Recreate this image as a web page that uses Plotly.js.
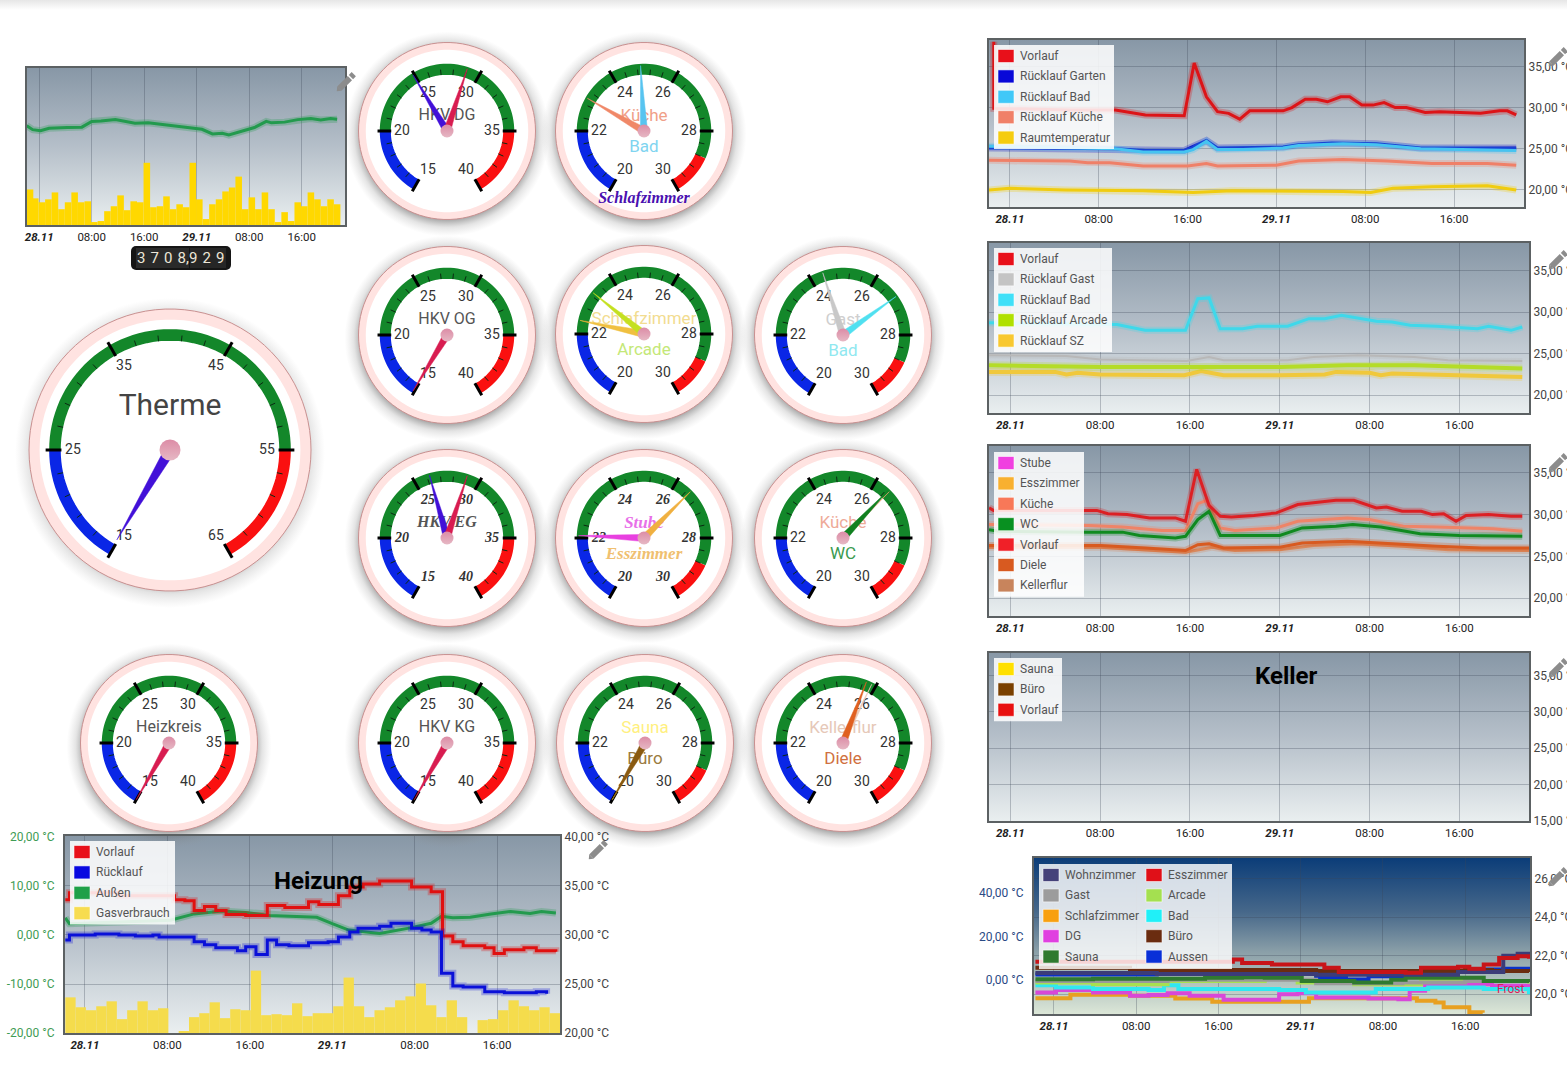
<!DOCTYPE html>
<html><head><meta charset="utf-8">
<script src="https://cdn.plot.ly/plotly-3.0.1.min.js"></script>
<style>html,body{margin:0;padding:0;background:#fff;overflow:hidden}#g{width:1567px;height:1083px}</style>
</head><body><div id="g"></div>
<script>
/* ---------- time axis ---------- */
const timeTickHours = [0,8,16,24,32,40];
const timeTickLabels = ['<b><i>28.11</i></b>','08:00','16:00','<b><i>29.11</i></b>','08:00','16:00'];

/* ---------- Gas overview chart ---------- */
const gasHours = [-1.4,-0.6,0.4,1.4,2.4,3.4,4.4,5.4,6.4,7.4,8.4,9.4,10.4,11.4,12.4,13.4,14.4,15.4,16.4,17.4,18.4,19.4,20.4,21.4,22.4,23.4,24.4,25.4,26.4,27.4,28.4,29.4,30.4,31.4,32.4,33.4,34.4,35.4,36.4,37.4,38.4,39.4,40.4,41.4,42.4,43.4,44.4,45.4];
const gasOverview = [36,27,23,26,33,16,23,33,23,24,3,4,14,19,30,15,24,23,63,18,19,29,16,21,18,63,26,6,21,26,34,38,49,16,28,16,33,16,3,13,4,23,19,33,26,19,26,21];
const outsideHours = [-1.9,-1,0.2,1.5,4.3,6.5,8,9.4,11.6,13,14.6,16.6,19,24.8,26.4,27.9,28.9,30.4,32.8,34.6,35.4,37.4,39.4,41.4,42.9,44.4,45.4];
const outsideOverview = [5.7,4.6,4.3,5,5.2,5.3,6.9,7,7.4,7,6.4,6.5,6,4.7,3.4,3.6,3.1,3.9,5.2,6.9,6.5,6.7,7.4,7.7,7.3,7.7,7.5];

/* ---------- Heizung chart ---------- */
const heizVorlaufHours = [-1.9,-1.5,0.5,3.3,8.7,9.7,10.6,11.6,12.7,13.7,15.6,16.7,17.7,19.4,21.7,22.7,24.6,25.7,27,28.6,31.7,33.6,34.7,35.7,36.7,38.8,39.7,40.7,42.6,43.8,45.7];
const heizVorlauf = [33.6,34.3,34.3,34,33.6,33.5,32.5,32.9,32.5,32.1,32,32,33,32.8,33.4,33.1,34,34.9,35.2,35.5,34.9,34.4,29.9,29.3,28.9,28.7,28.1,28.5,28.7,28.4,28.3];
const heizRuecklaufHours = [-1.9,-1.5,1,3.3,4.9,6.6,7.2,9.7,10.6,11.6,12.7,14.4,14.8,15.6,16.6,17.7,18.6,19.8,21.7,23.6,24.6,25.7,26.5,28.6,29.7,31.7,32.7,33.6,34.6,35.7,36.7,38.8,40.7,43.8,44.8];
const heizRuecklauf = [29.5,30,30.1,30,29.9,30,29.8,29.8,29.3,29,28.7,28.7,28.4,28.8,28,29.5,29,28.9,29.2,29.3,29.8,30.3,30.7,30.9,31.2,30.7,30.5,30.3,26.1,24.8,24.7,24.2,24.1,24.2,24];
const heizAussenHours = [-1.9,-1.5,8.3,10.6,13.3,15.6,17.9,20.2,22.5,24,25.6,28.6,31.7,33.6,34.6,35.7,37.4,39.4,41.3,43.2,44.3,45.7];
const heizAussen = [3.5,2.3,3,4.3,4.9,4.6,4,3.8,3.6,2.3,1,0.3,1.5,2.4,3.8,3.5,3.6,4.3,4.8,4.4,4.8,4.5];
const heizGasHours = [-1.4,-0.4,0.6,1.6,2.6,3.6,4.6,5.6,6.6,7.6,8.6,9.6,10.6,11.6,12.6,13.6,14.6,15.6,16.6,17.6,18.6,19.6,20.6,21.6,22.6,23.6,24.6,25.6,26.6,27.6,28.6,29.6,30.6,31.6,32.6,33.6,34.6,35.6,36.6,37.6,38.6,39.6,40.6,41.6,42.6,43.6,44.6,45.6];
const heizGas = [36,26,23,27,32,14,23,32,23,25,0,2,16,20,31,15,24,23,63,18,19,18,30,17,20,20,27,56,27,16,23,26,33,37,50,28,16,33,16,0,13,14,23,33,27,23,26,20];

/* ---------- right column 1 ---------- */
const r1VorlaufHours = [-1.45,-1.45,5.4,9.5,12.2,15.7,16.6,17.7,18.7,19.7,20.7,21.6,24.6,25.4,26.6,27.6,28.6,29.8,30.6,31.7,32.7,33.7,34.7,35.7,37.4,38.7,42.4,44.1,44.8,45.6];
const r1Vorlauf = [38,29.9,29.7,29.7,29.1,29,35.4,31.3,29.5,29.3,28.6,29.6,29.6,30,31,31,30.7,31.3,31.3,30.3,30.3,30.6,30,30,29.4,29.5,29.3,29.6,29.6,29.1];
const r1GartenHours = [-1.9,9.5,12.2,15.7,17.7,18.7,24.6,26,29,33,37,45.6];
const r1Garten = [25.1,25,24.8,24.8,26,25.1,25.2,25.5,25.7,25.6,25.1,25.1];
const r1BadHours = [-1.9,9.5,12,15.7,16.5,17.7,18.7,21,24.6,26,30,33,37,41,45.6];
const r1Bad = [25.3,25,24.6,24.6,24.9,25.9,24.9,24.9,25.1,25.4,25.6,25.5,25,24.9,24.8];
const r1KuecheHours = [-1.9,5.4,7,9,12,16,17.7,18.7,24,26,30,34,38,43,45.6];
const r1Kueche = [23.6,23.5,23.3,23.3,22.9,22.9,23.2,22.9,23,23.5,23.7,23.5,23.2,23.2,23];
const r1RaumHours = [-1.9,0,5,12,16.5,20,30,32.5,34.5,38,43,45.6];
const r1Raum = [20,20.2,20,19.9,19.7,19.9,19.8,19.7,20.2,20.4,20.5,20];

/* ---------- right column 2 ---------- */
const r2BadHours = [-1.9,9.5,12,15.6,16.7,17.7,18.7,20.7,22,24.7,26.6,28,29.5,32.6,34,35.6,38,41.6,42.6,44.6,45.6];
const r2Bad = [28.7,28.5,27.8,27.8,31.6,31.7,28,28,28.3,28.3,29.2,29.2,29.6,28.9,28.8,28.4,28.3,28,28.3,27.8,28.2];
const r2GastHours = [-1.9,5,8,15.7,17.7,19,24.7,27,31,36,39,45.6];
const r2Gast = [24.8,24.7,24.3,24.1,24.6,24.2,24.2,24.6,24.8,24.6,24.2,24.1];
const r2ArcadeHours = [-1.9,8,24,30,36,40,45.6];
const r2Arcade = [23.6,23.4,23.4,23.6,23.6,23.4,23.2];
const r2SzHours = [-1.9,4,5,6,8,15.5,17,19,24,28,29,32,33,34,45.6];
const r2Sz = [22.8,22.8,22.5,22.7,22.5,22.4,22.9,22.4,22.4,22.5,22.8,22.7,22.4,22.6,22.2];

/* ---------- right column 3 ---------- */
const r3VorlaufHours = [-1.9,-1.5,7,7.7,8.7,10.4,12.4,14.7,15.6,16.6,17.7,18.7,19.7,21.7,23.7,25.6,27.6,29,30.6,32.6,33.5,34.9,36.6,37.6,38.6,39.7,40.6,42.6,44.6,45.6];
const r3Vorlauf = [30.8,30.5,30.5,30.5,30.1,30,29.6,29.6,29.2,35.4,31.1,29.8,29.7,29.9,30.2,31.2,31.5,31.7,31.7,30.8,30.9,30.4,30.4,30,30.1,29.2,29.9,30,29.8,29.8];
const r3KuecheHours = [-1.9,7,10,13.5,15.6,16.7,17.5,18.7,20,23.7,25.6,28,30,32,35,38,43,45.6];
const r3Kueche = [28.8,28.7,28.5,28.1,28.1,31.3,31.7,28.4,28.1,28.4,29.2,29.4,29.6,29.4,28.6,28.5,28.3,28];
const r3WcHours = [-1.9,-1,7,10,11.5,14.7,15.6,16.7,17.7,18.7,24,26,29,30.5,33,36.5,40,45.6];
const r3Wc = [28.2,28,27.9,27.9,27.5,27.2,27.4,29.4,30.4,27.5,27.5,28.4,28.6,28.8,28.5,27.7,27.5,27.4];
const r3DieleHours = [-1.9,8,12,15.6,16.7,17.7,19,24,26,30,34,38,42,46.2];
const r3Diele = [26.3,26.3,26,25.7,26.4,26.5,26,26.1,26.6,26.8,26.5,26.2,26,26];
const r3KellerHours = [-1.9,8,15.6,17,18,20,24,27,31,35,39,46.2];
const r3Keller = [26.1,26.1,25.5,25.8,26.1,25.7,25.8,26.3,26.5,26.2,25.8,25.7];

/* ---------- Zimmer chart ---------- */
const zSzHours = [-1.8,1.6,7.4,11.8,15.4,24.5,24.8,33.9,35.3,37.1,37.9,40.4,41.7];
const zSz = [19.79,19.97,19.91,19.78,19.61,19.61,19.79,19.79,19.66,19.57,19.32,19.06,19.03];
const zDgHours = [-1.8,0.2,3.8,7.4,9.2,11.05,13.2,16.5,21.9,23.7,25.5,30.6,33.5,34.6,36.1,39.3,42.6,46.2];
const zDg = [20.09,20.22,20.09,19.91,19.95,20.05,19.91,19.71,20,20.05,19.83,19.78,19.74,20.17,20.43,20.51,20.43,20.09];
const zBadHours = [-1.8,0.2,3.8,9.2,10.7,12.1,21.9,24.5,29.2,31.3,36.4,41.8,43.7,46.2];
const zBad = [20.46,20.34,20.26,20.22,20.46,20.26,20.22,20.09,20.09,20.26,20.34,20.26,20.26,20];
const zArcadeHours = [-1.8,3.8,9.2,11.05,18.3,20.5,23.7,29.2,33.5,35.7,40,46.2];
const zArcade = [20.6,20.51,20.51,20.68,20.68,20.85,20.6,20.51,20.51,20.74,20.68,20.55];
const zGastHours = [-1.8,11.05,25.5,32.8,33.9,40,46.2];
const zGast = [20.68,20.74,20.56,20.56,20.6,20.68,20.6];
const zSaunaHours = [-1.8,3.8,14.7,18.3,20.5,24.1,29.2,32.8,34.2,40,41.8,46.2];
const zSauna = [20.77,20.8,20.85,20.88,20.85,20.68,20.6,20.74,20.85,20.85,20.68,20.63];
const zBueroHours = [-1.8,7.4,25.5,29.2,32.8,40,42.6,46.2];
const zBuero = [21.37,21.25,21.2,21.2,21.2,21.25,21.2,21.15];
const zWohnHours = [-1.8,10,25.5,39.3,43.7,45.1,46.2];
const zWohn = [21.1,21.05,21,21.15,21.99,22.1,21.88];
const zEssHours = [-1.8,17.4,18.3,21.2,24.5,26.3,27.7,34.2,35.7,39.3,40.4,41.8,43.3,45.1,46.2];
const zEss = [21.68,21.8,21.62,21.54,21.54,21.37,21.15,21.11,21.37,21.42,21.32,21.54,21.88,21.97,21.83];
const zAussenHours = [-1.8,7.4,10,15.4,21.9,23.7,25.5,28.4,30.6,33.9,35.7,40,43.7,46.2];
const zAussen = [2.6,2.6,4.1,4.5,4.1,3.3,1.1,0.3,1.8,2.6,4.1,4.8,5.2,4.8];

/* ---------- gauge scales and readings ---------- */
const thermeScale = [15,65], hkvScale = [15,40], roomScale = [20,30];
const thermeBands = [15,25,55,65], hkvBands = [15,20,35,40], roomBands = [20,22,28.8,30];
const thermeReading = [15.1];
const hkvDgReadings = [24.9,29.0];
const hkvOgReading = [15.1];
const hkvEgReadings = [26.2,29.0];
const heizkreisReading = [15.0];
const hkvKgReading = [15.0];
const szKuecheBadReadings = [23.0,24.9];
const szArcadeReadings = [22.4,23.3];
const gastBadReadings = [24.4,26.8];
const stubeEssReadings = [22.07,26.5];
const kuecheWcReadings = [26.5,26.45];
const saunaBueroReadings = [20.0,20.0];
const kellerDieleReadings = [25.87,25.7];

/* ---------- helpers ---------- */
const W=1567,H=1083;
const data=[],shapes=[],annotations=[],images=[];
const layout={width:W,height:H,margin:{l:0,r:0,t:0,b:0},paper_bgcolor:'#fff',plot_bgcolor:'rgba(0,0,0,0)',
  showlegend:false,barmode:'overlay',font:{family:'Roboto',size:12,color:'#444'},shapes,annotations,images};
const FONT='Roboto';
const FRAME='#5c6163';
let axisN=0;
const px=x=>x/W, py=y=>1-y/H;
const axKey=id=>id.replace('x','xaxis').replace('y','yaxis');
function svgUri(s){return 'data:image/svg+xml;utf8,'+encodeURIComponent(s);}
function pngImage(l,t,w,h,svg,layer){images.push({source:svgUri(svg),xref:'paper',yref:'paper',x:px(l),y:py(t),sizex:w/W,sizey:h/H,xanchor:'left',yanchor:'top',sizing:'stretch',layer:layer||'below'});}
function gradient(l,t,r,b,stops){
  const s=stops.map(p=>`<stop offset="${p[0]}" stop-color="${p[1]}"/>`).join('');
  pngImage(l,t,r-l,b-t,`<svg xmlns="http://www.w3.org/2000/svg" width="100" height="100" preserveAspectRatio="none" viewBox="0 0 100 100"><defs><linearGradient id="a" x1="0" y1="0" x2="0" y2="1">${s}</linearGradient></defs><rect width="100" height="100" fill="url(#a)"/></svg>`);
}
const greyStops=[[0,'#8797a6'],[0.5,'#b5bfc9'],[1,'#eaeff0']];
const blueStops=[[0,'#0a3c78'],[0.35,'#47688a'],[0.6,'#8a9fa8'],[1,'#dde8d8']];
function newX(l,r,range){
  const id=++axisN; const k='xaxis'+(id===1?'':id);
  layout[k]={domain:[px(l+1),px(r-1)],range,tickvals:timeTickHours,ticktext:timeTickLabels,tickangle:0,showgrid:true,gridcolor:'rgba(60,70,85,0.30)',gridwidth:1,
    zeroline:false,showline:true,mirror:true,linecolor:FRAME,linewidth:2,ticks:'',tickfont:{family:FONT,size:11.5,color:'#222'},layer:'above traces'};
  return 'x'+(id===1?'':id);
}
function newY(xId,t,b,range,o){
  const id=++axisN; const k='yaxis'+id; o=o||{};
  const a={domain:[py(b-1),py(t+1)],range,anchor:xId,zeroline:false,ticks:'',fixedrange:true,showgrid:false,tickfont:{family:FONT,size:12,color:o.color||'#444'},
    showline:true,mirror:true,linecolor:FRAME,linewidth:2,layer:'above traces'};
  if(o.side){a.side=o.side;}
  if(o.vals){a.tickvals=o.vals;a.ticktext=o.text;}
  if(o.grid){a.showgrid=true;a.gridcolor='rgba(60,70,85,0.30)';}
  if(o.hidden){a.visible=false;}
  if(o.over){a.overlaying=o.over;}
  layout[k]=a;
  const xa=layout[axKey(xId)];
  if(!xa.anchor) xa.anchor='y'+id;
  return 'y'+id;
}
function line(x,y,xs,ys,color,name,o){
  o=o||{};
  if(o.shadow!==false) data.push({type:'scatter',mode:'lines',x:xs,y:ys,xaxis:x,yaxis:y,showlegend:false,hoverinfo:'skip',opacity:0.28,line:{color:o.shadow||color,width:(o.w||3)+4,shape:o.shape||'linear'}});
  data.push({type:'scatter',mode:'lines',name,x:xs,y:ys,xaxis:x,yaxis:y,hoverinfo:'skip',line:{color,width:o.w||3,shape:o.shape||'linear'}});
}
function legendOnly(x,y,name,color){data.push({type:'scatter',mode:'lines',name,x:[null],y:[null],xaxis:x,yaxis:y,line:{color}});}
function bars(x,y,xs,ys,color,name){data.push({type:'bar',name,x:xs,y:ys,xaxis:x,yaxis:y,width:1,hoverinfo:'skip',marker:{color,line:{width:0}}});}
function legendBox(l,t,w,rows,alpha,h){
  const step=20.4;
  const hh=h||rows.length*step+2;
  shapes.push({type:'rect',xref:'paper',yref:'paper',layer:'above',x0:px(l),x1:px(l+w),y0:py(t),y1:py(t+hh),fillcolor:`rgba(255,255,255,${alpha||0.86})`,line:{width:0}});
  rows.forEach((r,i)=>legendRow(l+4,t+11+i*step,r[0],r[1]));
}
function legendRow(x,yc,name,color){
  shapes.push({type:'rect',xref:'paper',yref:'paper',layer:'above',x0:px(x),x1:px(x+16),y0:py(yc-6.5),y1:py(yc+6.5),fillcolor:color,line:{color:'rgba(255,255,255,0.55)',width:1}});
  annotations.push({xref:'paper',yref:'paper',x:px(x+20),y:py(yc),xanchor:'left',yanchor:'middle',showarrow:false,text:name,font:{family:FONT,size:12,color:'#555'}});
}
function label(x,y,text,size,color,bold){annotations.push({xref:'paper',yref:'paper',x:px(x),y:py(y),xanchor:'center',yanchor:'middle',showarrow:false,text:bold?'<b>'+text+'</b>':text,font:{family:FONT,size,color}});}
function pencil(cx,cy){pngImage(cx-13,cy-13,26,26,`<svg xmlns="http://www.w3.org/2000/svg" width="26" height="26" viewBox="0 0 26 26"><g transform="rotate(45 13 13)" fill="#8c8c8c"><rect x="10" y="7.5" width="6" height="15"/><rect x="10" y="2" width="6" height="4"/><polygon points="10,22.5 16,22.5 13,26"/></g></svg>`,'above');}

/* ---------- charts ---------- */
gradient(0,0,W,10,[[0,'#e6e6e6'],[1,'#ffffff']]);

// Gas overview
{ gradient(26,67,346,226,greyStops);
  const x=newX(26,346,[-1.86,46.6]);
  const yg=newY(x,67,226,[0,159],{hidden:true});
  const y=newY(x,67,226,[-22,21.8],{over:yg,vals:[],text:[]});
  bars(x,yg,gasHours,gasOverview,'#ffd800','Gasverbrauch');
  line(x,y,outsideHours,outsideOverview,'#239a4e','Außen');
  pencil(346,82);
}
// Heizung
{ gradient(64,835,561,1034,greyStops);
  const x=newX(64,561,[-1.93,46.1]);
  const yg=newY(x,835,1034,[0,199],{hidden:true});
  const yl=newY(x,835,1034,[-20,20.2],{over:yg,color:'#3f9c55',vals:[-20,-10,0,10,20],text:['-20,00 °C','-10,00 °C','0,00 °C','10,00 °C','20,00 °C'],grid:true});
  const yr=newY(x,835,1034,[20,40.1],{over:yg,side:'right',vals:[20,25,30,35,40],text:['20,00 °C','25,00 °C','30,00 °C','35,00 °C','40,00 °C']});
  layout[axKey(yl)].ticklabelstandoff=6;
  bars(x,yg,heizGasHours,heizGas,'#f5dc4c','Gasverbrauch');
  line(x,yl,heizAussenHours,heizAussen,'#239a4e','Außen');
  line(x,yr,heizVorlaufHours,heizVorlauf,'#e01010','Vorlauf',{shape:'hv'});
  line(x,yr,heizRuecklaufHours,heizRuecklauf,'#0a10d8','Rücklauf',{shape:'hv'});
  legendBox(70,841,105,[['Vorlauf','#e8101a'],['Rücklauf','#0808e0'],['Außen','#1fa048'],['Gasverbrauch','#f7dc50']]);
  label(318,881,'Heizung',24,'#000',true);
  pencil(598,850);
}
function rightChart(t,b,r,xr,yr,ticks,gridL){
  gradient(gridL,t,r,b,greyStops);
  const x=newX(gridL,r,xr);
  const y=newY(x,t,b,yr,{side:'right',vals:ticks,text:ticks.map(v=>v.toFixed(2).replace('.',',')+' °C'),grid:true});
  return [x,y];
}
// Right 1
{ const [x,y]=rightChart(39,208,1525,[-1.88,46.3],[17.93,38.2],[35,30,25,20],988);
  line(x,y,r1RaumHours,r1Raum,'#f0cc10','Raumtemperatur');
  line(x,y,r1KuecheHours,r1Kueche,'#ef8068','Rücklauf Küche');
  line(x,y,r1GartenHours,r1Garten,'#0a10c8','Rücklauf Garten');
  line(x,y,r1BadHours,r1Bad,'#46c4f0','Rücklauf Bad');
  line(x,y,r1VorlaufHours,r1Vorlauf,'#dc1418','Vorlauf');
  legendBox(994,45,120,[['Vorlauf','#e8101a'],['Rücklauf Garten','#0808d8'],['Rücklauf Bad','#40c8f8'],['Rücklauf Küche','#f08068'],['Raumtemperatur','#f5cc10']]);
  pencil(1558,57);
}
// Right 2
{ const [x,y]=rightChart(242,414,1530,[-1.9,46.2],[17.86,38.3],[35,30,25,20],988);
  legendOnly(x,y,'Vorlauf','#e8101a');
  line(x,y,r2GastHours,r2Gast,'#b8b8b8','Rücklauf Gast',{w:2});
  line(x,y,r2SzHours,r2Sz,'#f0c83c','Rücklauf SZ',{w:4});
  line(x,y,r2ArcadeHours,r2Arcade,'#b4dc28','Rücklauf Arcade',{w:4});
  line(x,y,r2BadHours,r2Bad,'#3fd8ea','Rücklauf Bad');
  legendBox(994,248,118,[['Vorlauf','#e8101a'],['Rücklauf Gast','#c4c4c4'],['Rücklauf Bad','#40e0f8'],['Rücklauf Arcade','#b0e000'],['Rücklauf SZ','#f8c830']]);
  pencil(1558,260);
}
// Right 3
{ const [x,y]=rightChart(445,617,1530,[-1.9,46.2],[17.87,38.2],[35,30,25,20],988);
  legendOnly(x,y,'Stube','#f040e0'); legendOnly(x,y,'Esszimmer','#f8b030');
  line(x,y,r3KellerHours,r3Keller,'#d8885c','Kellerflur');
  line(x,y,r3DieleHours,r3Diele,'#d85a20','Diele');
  line(x,y,r3KuecheHours,r3Kueche,'#ee8468','Küche');
  line(x,y,r3WcHours,r3Wc,'#108a20','WC');
  line(x,y,r3VorlaufHours,r3Vorlauf,'#dc2024','Vorlauf');
  legendBox(994,452,90,[['Stube','#f040e0'],['Esszimmer','#f8b030'],['Küche','#f87858'],['WC','#089020'],['Vorlauf','#f02028'],['Diele','#d85a20'],['Kellerflur','#c8845c']]);
  pencil(1558,463);
}
// Keller
{ const [x,y]=rightChart(652,822,1530,[-1.9,46.2],[15,38.1],[35,30,25,20,15],988);
  legendOnly(x,y,'Sauna','#ffe000'); legendOnly(x,y,'Büro','#7a4000'); legendOnly(x,y,'Vorlauf','#e81010');
  legendBox(994,658,68,[['Sauna','#ffe000'],['Büro','#7a4000'],['Vorlauf','#e81010']]);
  label(1286,676,'Keller',24,'#000',true);
  pencil(1558,668);
}
// Zimmer
{ gradient(1033,857,1531,1015,blueStops);
  const x=newX(1033,1531,[-1.94,46.3]);
  const yl=newY(x,857,1015,[-15.6,56.1],{color:'#2a4a85',vals:[0,20,40],text:['0,00 °C','20,00 °C','40,00 °C']});
  const yr=newY(x,857,1015,[18.97,27.06],{over:yl,side:'right',color:'#444',vals:[20,22,24,26],text:['20,0 °C','22,0 °C','24,0 °C','26,0 °C'],grid:true});
  layout[axKey(yl)].ticklabelstandoff=6;
  const o=()=>({shape:'hv',w:4,shadow:false});
  line(x,yr,zSzHours,zSz,'#e8a020','Schlafzimmer',o());
  line(x,yr,zDgHours,zDg,'#d848d8','DG',o());
  line(x,yr,zBadHours,zBad,'#30e8f0','Bad',o());
  line(x,yr,zArcadeHours,zArcade,'#a8e050','Arcade',o());
  line(x,yr,zGastHours,zGast,'#9a9a9a','Gast',o());
  line(x,yr,zSaunaHours,zSauna,'#2f7a2f','Sauna',o());
  line(x,yr,zBueroHours,zBuero,'#6a2c10','Büro',o());
  line(x,yr,zWohnHours,zWohn,'#3c3c78','Wohnzimmer',o());
  line(x,yr,zEssHours,zEss,'#c81418','Esszimmer',o());
  line(x,yl,zAussenHours,zAussen,'#0a30c8','Aussen',o());
  const rows1=[['Wohnzimmer','#45427a'],['Gast','#9c9c9c'],['Schlafzimmer','#f8a010'],['DG','#e040e0'],['Sauna','#2f7a2f']];
  const rows2=[['Esszimmer','#e01018'],['Arcade','#a4e050'],['Bad','#20f0f8'],['Büro','#6a2c10'],['Aussen','#0830d8']];
  legendBox(1039,864,193,rows1,0.82,105);
  rows2.forEach((r,i)=>legendRow(1146,875+i*20.4,r[0],r[1]));
  annotations.push({xref:'paper',yref:'paper',x:px(1510),y:py(989),xanchor:'center',yanchor:'middle',showarrow:false,text:'Frost',font:{family:FONT,size:12,color:'#d81e5a'}});
  pencil(1558,877);
}
// counter
pngImage(131,246,100,24,`<svg xmlns="http://www.w3.org/2000/svg" width="100" height="24"><rect width="100" height="24" rx="5" fill="#151515"/><rect x="5" y="2" width="53" height="20" fill="#2a2a2a"/><rect x="59" y="2" width="36" height="20" fill="#262626"/></svg>`,'above');
annotations.push({xref:'paper',yref:'paper',x:px(181),y:py(258),xanchor:'center',yanchor:'middle',showarrow:false,text:'3\u20047\u20040\u20048,9\u20042\u20049',font:{family:FONT,size:15,color:'#ece6d8'}});

/* ---------- gauges ---------- */
let polarN=0;
const circle=[];for(let a=0;a<=360;a+=4)circle.push(a);
const toPolar=(dx,dy)=>[Math.hypot(dx,dy),Math.atan2(-dy,dx)*180/Math.PI];
function gauge(g){
  const id=++polarN; const sub='polar'+(id===1?'':id);
  const R=g.R, Rd=R*1.02;
  pngImage(g.cx-R-14,g.cy-R-11,2*R+28,2*R+28,`<svg xmlns="http://www.w3.org/2000/svg" width="200" height="200"><defs><radialGradient id="s"><stop offset="0.82" stop-color="#555" stop-opacity="0.6"/><stop offset="0.91" stop-color="#777" stop-opacity="0.2"/><stop offset="1" stop-color="#999" stop-opacity="0"/></radialGradient></defs><circle cx="100" cy="100" r="100" fill="url(#s)"/></svg>`);
  layout[sub]={domain:{x:[px(g.cx-Rd),px(g.cx+Rd)],y:[py(g.cy+Rd),py(g.cy-Rd)]},bgcolor:'rgba(0,0,0,0)',
    radialaxis:{visible:false,range:[0,1.02]},angularaxis:{visible:false,rotation:0,direction:'counterclockwise'}};
  const [vmin,vmax]=g.scale;
  const ang=v=>240-(v-vmin)/(vmax-vmin)*300;
  const add=t=>data.push(Object.assign({type:'scatterpolar',subplot:sub,hoverinfo:'skip',showlegend:false,cliponaxis:false},t));
  add({mode:'lines',r:circle.map(()=>1),theta:circle,fill:'toself',fillcolor:'#ffe3e1',line:{color:'#c89090',width:1}});
  add({mode:'lines',r:circle.map(()=>g.white),theta:circle,fill:'toself',fillcolor:'#ffffff',line:{color:'#ffffff',width:0}});
  const bcol=['#0a26e6','#13872a','#fa1010'];
  const rb=(g.bo+g.bi)/2, bw=(g.bo-g.bi)*R;
  for(let i=0;i<3;i++){
    const a0=ang(g.bands[i]),a1=ang(g.bands[i+1]);const th=[];
    const n=Math.max(2,Math.ceil(Math.abs(a0-a1)/3));
    for(let k=0;k<=n;k++)th.push(a0+(a1-a0)*k/n);
    add({mode:'lines',r:th.map(()=>rb),theta:th,line:{color:bcol[i],width:bw}});
  }
  const mr=[],mt=[];
  for(let i=1;i<25;i++){ if(i%5===0)continue; const a=240-i*12; mr.push(g.bi,g.bi+(g.bo-g.bi)*0.5,null); mt.push(a,a,null);}
  add({mode:'lines',r:mr,theta:mt,line:{color:'#0b2a12',width:1}});
  const Mr=[],Mt=[],lv=[];
  for(let i=0;i<=5;i++){const v=vmin+(vmax-vmin)*i/5;const a=ang(v);Mr.push(g.bi-0.005,g.bo+0.025,null);Mt.push(a,a,null);lv.push(v);}
  add({mode:'lines',r:Mr,theta:Mt,line:{color:'#000',width:3}});
  const ft=g.tickItalic?'<b><i>':'',fe=g.tickItalic?'</i></b>':'';
  const [a,b,c]=g.lab;
  const off=[[-a,b],[-c,-1],[-a,-b],[a,-b],[c,-1],[a,b]].map(p=>toPolar(p[0],p[1]+1.5));
  add({mode:'text',r:off.map(p=>p[0]/R),theta:off.map(p=>p[1]),text:lv.map(v=>ft+v+fe),textposition:'middle center',textfont:{family:g.tickItalic?'Liberation Serif':FONT,size:g.tickSize||14,color:'#333'}});
  (g.texts||[]).forEach(t=>{
    const d=t.dy+1.5;
    add({mode:'text',r:[Math.abs(d)/R],theta:[d<0?90:270],text:[t.text],textposition:'middle center',textfont:{family:t.font||FONT,size:t.size||17,color:t.color}});
  });
  (g.needles||[]).forEach(n=>{
    const ag=ang(n.v), rt=g.nl, rb0=n.base||g.nb;
    add({mode:'lines',r:[rb0,rt,rb0,rb0],theta:[ag+90,ag,ag-90,ag+90],fill:'toself',fillcolor:n.color,line:{color:n.color,width:0.5}});
  });
  add({mode:'markers',r:[0],theta:[0],marker:{size:g.hub,color:'#dc8ca6',gradient:{type:'vertical',color:'#e6b8c4'},line:{width:0}}});
}
const violet='#4210d8',crimson='#d81c50';
const small={R:88.5,white:0.918,bo:0.76,bi:0.635,lab:[19,38.5,45],nl:0.74,nb:0.04,hub:13};
const G=o=>gauge(Object.assign({},small,o));
const T=(text,dy,color,size,font)=>({text,dy,color,size,font});
const SCRIPT='Liberation Serif';
gauge({cx:170,cy:450,R:141,white:0.925,bo:0.857,bi:0.775,lab:[46,85,97],nl:0.74,nb:0.037,hub:21,scale:thermeScale,bands:thermeBands,
  texts:[T('Therme',-44,'#444',30)],needles:[{v:thermeReading[0],color:violet}]});
G({cx:447,cy:131,scale:hkvScale,bands:hkvBands,texts:[T('HKV DG',-16,'#555',16)],needles:[{v:hkvDgReadings[0],color:violet},{v:hkvDgReadings[1],color:crimson}]});
G({cx:644,cy:131,scale:roomScale,bands:roomBands,texts:[T('Küche',-16,'#f0a088',17),T('Bad',15,'#80d4f0',17),T('<b><i>Schlafzimmer</i></b>',67,'#4a10b0',16,SCRIPT)],
  needles:[{v:szKuecheBadReadings[0],color:'#f08868'},{v:szKuecheBadReadings[1],color:'#58c4f0'}]});
G({cx:447,cy:335,scale:hkvScale,bands:hkvBands,texts:[T('HKV OG',-16,'#555',16)],needles:[{v:hkvOgReading[0],color:crimson}]});
G({cx:644,cy:334,scale:roomScale,bands:roomBands,texts:[T('Schlafzimmer',-16,'#f2dc90',17),T('Arcade',15,'#c4e878',17)],
  needles:[{v:szArcadeReadings[0],color:'#f0c040'},{v:szArcadeReadings[1],color:'#c4e020'}]});
G({cx:843,cy:335,scale:roomScale,bands:roomBands,texts:[T('Gast',-16,'#cfcfcf',17),T('Bad',15,'#90e8f0',17)],
  needles:[{v:gastBadReadings[0],color:'#c8c8c8'},{v:gastBadReadings[1],color:'#50e0f0'}]});
G({cx:447,cy:538,scale:hkvScale,bands:hkvBands,tickItalic:true,texts:[T('<b><i>HKV EG</i></b>',-16,'#555',16,SCRIPT)],needles:[{v:hkvEgReadings[0],color:violet},{v:hkvEgReadings[1],color:crimson}]});
G({cx:644,cy:538,scale:roomScale,bands:roomBands,tickItalic:true,texts:[T('<b><i>Stube</i></b>',-16,'#e870e8',17,SCRIPT),T('<b><i>Esszimmer</i></b>',15,'#f0c070',17,SCRIPT)],
  needles:[{v:stubeEssReadings[0],color:'#e840e0'},{v:stubeEssReadings[1],color:'#f0b040'}]});
G({cx:843,cy:538,scale:roomScale,bands:roomBands,texts:[T('Küche',-16,'#eeaa98',17),T('WC',15,'#3a9a50',17)],
  needles:[{v:kuecheWcReadings[0],color:'#e8a070',base:0.012},{v:kuecheWcReadings[1],color:'#108020'}]});
G({cx:169,cy:743,scale:hkvScale,bands:hkvBands,texts:[T('Heizkreis',-16,'#555',16)],needles:[{v:heizkreisReading[0],color:crimson}]});
G({cx:447,cy:743,scale:hkvScale,bands:hkvBands,texts:[T('HKV KG',-16,'#555',16)],needles:[{v:hkvKgReading[0],color:crimson}]});
G({cx:645,cy:743,scale:roomScale,bands:roomBands,texts:[T('Sauna',-16,'#fff080',17),T('Büro',15,'#9a7a40',17)],
  needles:[{v:saunaBueroReadings[0],color:'#ffe040',base:0.012},{v:saunaBueroReadings[1],color:'#8a5a10'}]});
G({cx:843,cy:743,scale:roomScale,bands:roomBands,texts:[T('Kellerflur',-16,'#e6c8b8',17),T('Diele',15,'#d07040',17)],
  needles:[{v:kellerDieleReadings[0],color:'#eccbb8',base:0.02},{v:kellerDieleReadings[1],color:'#e06020'}]});

Plotly.newPlot('g',data,layout,{staticPlot:true,displayModeBar:false});
</script></body></html>
